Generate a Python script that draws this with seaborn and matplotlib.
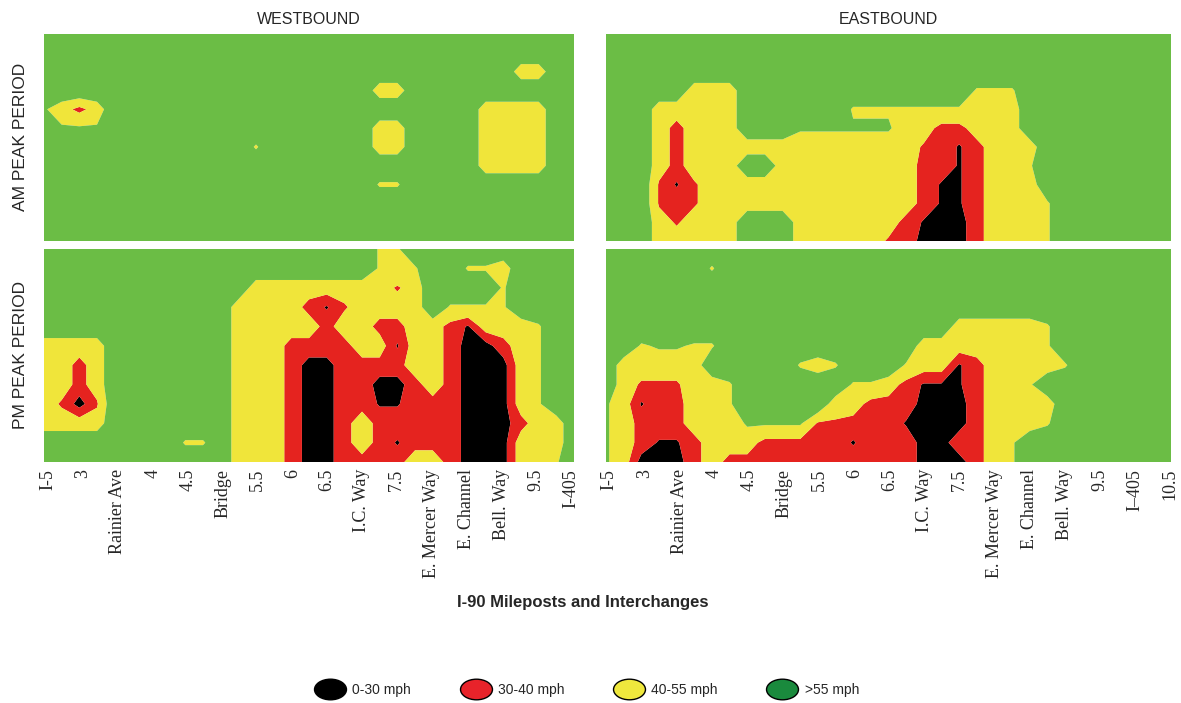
import numpy as np
import matplotlib
matplotlib.use("Agg")
import matplotlib.pyplot as plt
from matplotlib.path import Path
from matplotlib.lines import Line2D
from matplotlib.transforms import Affine2D
import seaborn as sns

# ---------------- data ----------------
# speed code per grid node (rows = time, top -> bottom; columns = half-milepost steps)
SPEED_CODE = {"B": 26, "b": 29, "R": 36, "r": 38.5, "Y": 46, "y": 53, "h": 57, "g": 60, "G": 68.5}
SPEED_BINS = [0, 30, 40, 55, 100]
LEGEND_LABELS = ["0-30 mph", "30-40 mph", "40-55 mph", ">55 mph"]

WB_TICKS = ["I-5", "3", "Rainier Ave", "4", "4.5", "Bridge", "5.5", "6", "6.5", "I.C. Way",
            "7.5", "E. Mercer Way", "E. Channel", "Bell. Way", "9.5", "I-405"]
EB_TICKS = ["I-5", "3", "Rainier Ave", "4", "4.5", "Bridge", "5.5", "6", "6.5", "I.C. Way",
            "7.5", "E. Mercer Way", "E. Channel", "Bell. Way", "9.5", "I\u2013405", "10.5"]

WB_AM = [
    "GGGGGGGGGGGGGGGGGGGGGGGGGGGGGGG",
    "GGGGGGGGGGGGGGGGGGGGGGGGGGGGGGG",
    "GGGGGGGGGGGGGGGGGGGGGGGGGGG" "YY" "GG",
    "GGGGGGGGGGGGGGGGGGG" "YY" "GGGGGGGGGG",
    "h" "YRY" "GGGGGGGGGGGGGGGGGGGGG" "YYYY" "GG",
    "G" "hhh" "GGGGGGGGGGGGGGG" "YY" "GGGG" "YYYY" "GG",
    "GGGGGGGGGGGG" "y" "GGGGGG" "YY" "GGGG" "YYYY" "GG",
    "GGGGGGGGGGGGGGGGGGGGGGGGG" "YYYY" "GG",
    "GGGGGGGGGGGGGGGGGGG" "yy" "GGGGGGGGGG",
    "GGGGGGGGGGGGGGGGGGGGGGGGGGGGGGG",
    "GGGGGGGGGGGGGGGGGGGGGGGGGGGGGGG",
    "GGGGGGGGGGGGGGGGGGGGGGGGGGGGGGG",
]

WB_PM = [
    "GGGGGGGGGGGGGGGGGGG" "yy" "GGGGGGGGGG",
    "GGGGGGGGGGGGGGGGGGG" "yyy" "GG" "yyY" "GGGG",
    "GGGGGGGGGGGG" "YYYYYYYY" "r" "Y" "GGGG" "y" "GGGG",
    "GGGGGGGGGGG" "YYYY" "R" "b" "r" "YYYY" "G" "yyyy" "GGGG",
    "GGGGGGGGGGG" "YYYYY" "R" "YY" "RR" "YY" "R" "b" "YYY" "y" "GG",
    "YYYYGGGGGGG" "YYY" "RRRR" "YY" "b" "YY" "R" "BB" "R" "Y" "y" "GG",
    "YYRYGGGGGGG" "YYY" "R" "BB" "RRRR" "YY" "R" "BB" "B" "Y" "y" "GG",
    "YYRYGGGGGGG" "YYY" "R" "BB" "RR" "BB" "R" "Y" "R" "BB" "B" "Y" "y" "GG",
    "YrBrGGGGGGG" "YYY" "R" "BB" "RR" "bb" "RRR" "BB" "B" "Y" "y" "GG",
    "YYYYGGGGGGG" "YYY" "R" "BB" "R" "Y" "RRRRR" "BB" "B" "R" "YY" "G",
    "GGGGGGGGyyG" "YYY" "R" "BB" "R" "Y" "R" "b" "RR" "R" "BB" "B" "Y" "YY" "G",
    "GGGGGGGGGGG" "YYY" "R" "BB" "R" "R" "R" "R" "YY" "R" "BB" "B" "Y" "Y" "y" "G",
]

EB_AM = [
    "GGGGGGGGGGGGGGGGGGGGGGGGGGGGGGGGG",
    "GGGGGGGGGGGGGGGGGGGGGGGGGGGGGGGGG",
    "GGGGGGGGGGGGGGGGGGGGGGGGGGGGGGGGG",
    "GGGGG" "YYY" "GGGGGGGGGGGGG" "yyy" "GGGGGGGGG",
    "GGG" "YYYYY" "GGGGGG" "yyyyyyy" "YYY" "GGGGGGGGG",
    "GGG" "Y" "R" "YYY" "GGG" "hhhhhh" "YY" "RR" "YYY" "GGGGGGGGG",
    "GGG" "Y" "R" "YYYYYYYYYY" "Y" "YY" "r" "R" "b" "R" "YYY" "GGGGGGGG",
    "GGG" "Y" "R" "YYY" "GG" "YYYYYYYY" "R" "R" "b" "R" "YY" "y" "GGGGGGGG",
    "GGG" "r" "b" "r" "YYYYYYYYYYYY" "R" "b" "b" "R" "YYY" "GGGGGGGG",
    "GGG" "r" "R" "r" "YYYYYYYYYYYY" "R" "bb" "R" "YYY" "y" "GGGGGGG",
    "GGG" "Y" "r" "YYY" "GGG" "YYYYYY" "R" "b" "BB" "R" "YYY" "y" "GGGGGGG",
    "GGG" "YYYYY" "GGG" "YYYYY" "r" "R" "BBB" "R" "YYY" "y" "GGGGGGG",
]

EB_PM = [
    "GGGGGGGGGGGGGGGGGGGGGGGGGGGGGGGGG",
    "GGGGGG" "y" "GGGGGGGGGGGGGGGGGGGGGGGGGG",
    "GGGGGGGGGGGGGGGGGGGGGGGGGGGGGGGGG",
    "GGGGGGGGGGGGGGGGGGGGGGGGGGGGGGGGG",
    "GGGGGGGGGGGGGGGGGGGG" "YYYYY" "y" "GGGGGGG",
    "GG" "y" "hh" "yy" "GGGGGGGGGGG" "YYYYYYY" "y" "GGGGGGG",
    "G" "YYYYY" "GGGGG" "y" "Y" "y" "GGG" "y" "YY" "b" "R" "YYYY" "y" "GGGGGG",
    "G" "Y" "rrr" "YY" "y" "GGGGGG" "yy" "Y" "R" "bbb" "R" "YY" "y" "GGGGGGGG",
    "h" "Y" "b" "RR" "YY" "y" "GGGGG" "YY" "RR" "R" "BBB" "R" "YYYY" "GGGGGGG",
    "h" "Y" "RRR" "YYY" "hhhh" "rr" "RRR" "b" "BBB" "R" "YYY" "y" "GGGGGGG",
    "h" "Y" "R" "bb" "R" "YYY" "RRR" "RR" "b" "RR" "R" "BB" "R" "R" "Y" "y" "GGGGGGGGG",
    "h" "Y" "BBB" "R" "Y" "RRRRRRRRRRR" "BBB" "R" "Y" "y" "GGGGGGGGG",
]

# ---------------- style ----------------
sns.set_theme(style="white")
plt.rcParams["font.family"] = ["Liberation Sans", "DejaVu Sans"]

MAP_COLORS = sns.color_palette(["#000000", "#E5231F", "#F0E53A", "#6BBD45"])
LEGEND_COLORS = sns.color_palette(["#000000", "#E8232A", "#EFE83D", "#1A8A3D"])

W, H = 1181, 703
fig = plt.figure(figsize=(W / 100, H / 100), dpi=100, facecolor="white")


def box(x0, y0, x1, y1):
    return [x0 / W, 1 - y1 / H, (x1 - x0) / W, (y1 - y0) / H]


panels = [
    (WB_AM, box(44, 34, 574, 241), (-0.12, 15.08), None),
    (WB_PM, box(44, 249, 574, 462), (-0.12, 15.08), WB_TICKS),
    (EB_AM, box(606, 34, 1171, 241), (-0.09, 16.03), None),
    (EB_PM, box(606, 249, 1171, 462), (-0.09, 16.03), EB_TICKS),
]

axes = []
for rows, pos, xlim, ticks in panels:
    for i, r in enumerate(rows):
        if len(r) != len(rows[0]):
            raise ValueError(f"row {i} length {len(r)} != {len(rows[0])}")
    Z = np.array([[SPEED_CODE[ch] for ch in r] for r in rows], dtype=float)
    ax = fig.add_axes(pos)
    xs = np.linspace(xlim[0], xlim[1], Z.shape[1])
    ys = np.linspace(0, 1, Z.shape[0])
    ax.contourf(xs, ys, Z, levels=SPEED_BINS, colors=MAP_COLORS, antialiased=True)
    ax.set_xlim(*xlim)
    ax.set_ylim(1, 0)
    ax.set_yticks([])
    if ticks is None:
        ax.set_xticks([])
    else:
        ax.set_xticks(range(len(ticks)))
        ax.set_xticklabels(ticks, rotation=90, fontfamily="Liberation Serif", fontsize=13)
        ax.tick_params(axis="x", length=0, pad=5)
    for s in ax.spines.values():
        s.set_visible(False)
    axes.append(ax)

axes[0].set_title("WESTBOUND", fontsize=11.5, pad=7)
axes[2].set_title("EASTBOUND", fontsize=11.5, pad=7)

fig.text(21 / W, 1 - 137 / H, "AM PEAK PERIOD", rotation=90, ha="center", va="center", fontsize=12.5)
fig.text(21 / W, 1 - 355 / H, "PM PEAK PERIOD", rotation=90, ha="center", va="center", fontsize=12.5)
fig.text(583 / W, 1 - 603 / H, "I-90 Mileposts and Interchanges", ha="center", va="center",
         fontsize=12, fontweight="bold")

ellipse = Path.unit_circle().transformed(Affine2D().scale(1.55, 1.0))
handles = [Line2D([], [], linestyle="None", marker=ellipse, markersize=23,
                  markerfacecolor=c, markeredgecolor="black", markeredgewidth=1.0)
           for c in LEGEND_COLORS]
fig.legend(handles, LEGEND_LABELS, loc="center", bbox_to_anchor=(587 / W, 1 - 690 / H), ncol=4,
           frameon=False, fontsize=10, handlelength=2.2, handletextpad=0.5, columnspacing=3.55)

fig.savefig("out.png", dpi=100, facecolor="white")
